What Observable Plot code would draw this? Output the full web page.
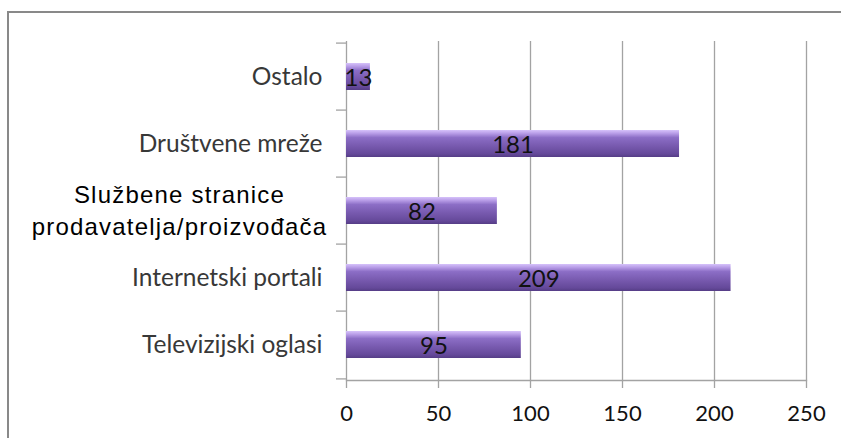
<!DOCTYPE html>
<html><head><meta charset="utf-8">
<script src="https://cdn.jsdelivr.net/npm/d3@7"></script>
<script src="https://cdn.jsdelivr.net/npm/@observablehq/plot@0.6"></script>
<style>
html,body{margin:0;padding:0;background:#fff;overflow:hidden}
#wrap{position:relative;width:841px;height:438px}
#frame{position:absolute;left:7px;top:11px;width:900px;height:500px;border:2px solid #898989;box-sizing:border-box;z-index:2;pointer-events:none}
#chart{position:absolute;left:0;top:0;z-index:1}
</style></head><body>
<div id="wrap"><div id="chart"></div><div id="frame"></div></div>
<script>
const categories = ["Ostalo", "Društvene mreže", "Službene stranice\nprodavatelja/proizvođača", "Internetski portali", "Televizijski oglasi"];
const values = [13, 181, 82, 209, 95];
const xTicks = [0, 50, 100, 150, 200, 250];

const data = categories.map((c, i) => ({category: c, value: values[i]}));
const W = 841, H = 438, mL = 346, mR = 35, mT = 41, mB = 58;
const step = (H - mT - mB) / categories.length;
const grid = "#a3a3a3";

const chart = Plot.plot({
  width: W, height: H,
  marginLeft: mL, marginRight: mR, marginTop: mT, marginBottom: mB,
  style: {background: "transparent", fontFamily: "Lato", overflow: "visible"},
  x: {domain: [0, 250], ticks: xTicks, label: null},
  y: {domain: categories, type: "band", paddingInner: 0.6, paddingOuter: 0.3, axis: null},
  marks: [
    Plot.ruleX(xTicks, {x: d => d, stroke: grid, strokeWidth: 1.3}),
    Plot.ruleY(categories, {y: d => d, x1: 0, x2: 0, insetLeft: -10, dy: -step / 2, stroke: grid, strokeWidth: 1.3}),
    Plot.ruleY([categories[categories.length - 1]], {y: d => d, x1: 0, x2: 0, insetLeft: -10, dy: step / 2, stroke: grid, strokeWidth: 1.3}),
    Plot.frame({anchor: "bottom", stroke: grid, strokeWidth: 1.3}),
    Plot.barX(data, {y: "category", x: "value", fill: "url(#barGrad)", style: {filter: "url(#barShadow)"}}),
    Plot.text(data, {y: "category", x: d => d.value / 2, text: d => String(d.value), fontSize: 24, fill: "#111", dy: 1}),
    Plot.text(data.filter(d => !d.category.includes("\n")), {y: "category", x: 0, text: "category", dx: -24, textAnchor: "end", fontSize: 24.5, fill: "#383838"}),
    Plot.text(data.filter(d => d.category.includes("\n")), {y: "category", x: 0, text: "category", dx: -167, dy: -2, textAnchor: "middle", fontFamily: "Liberation Sans", fontSize: 24, lineHeight: 1.32, fill: "#000"}),
    Plot.axisX({ticks: xTicks, tickSize: 8, tickPadding: 17, stroke: grid, strokeWidth: 1.3, fill: "#111", fontSize: 22, label: null})
  ]
});

const svg = d3.select(chart);
const defs = svg.insert("defs", ":first-child");
const g = defs.append("linearGradient").attr("id", "barGrad").attr("x1", 0).attr("y1", 0).attr("x2", 0).attr("y2", 1);
[[0, "#d6c2fa"], [0.12, "#b99ee8"], [0.28, "#8c6ec6"], [0.6, "#7759ae"], [0.88, "#65499a"], [1, "#553d86"]]
  .forEach(([o, c]) => g.append("stop").attr("offset", o).attr("stop-color", c));
const f = defs.append("filter").attr("id", "barShadow").attr("x", "-10%").attr("y", "-30%").attr("width", "130%").attr("height", "180%");
f.append("feDropShadow").attr("dx", 1).attr("dy", 3).attr("stdDeviation", 2).attr("flood-color", "#000").attr("flood-opacity", 0.35);
svg.selectAll("text").filter(function() { return this.textContent.includes("Službene"); }).attr("letter-spacing", "1.2px");

document.getElementById("chart").append(chart);
</script>
</body></html>
